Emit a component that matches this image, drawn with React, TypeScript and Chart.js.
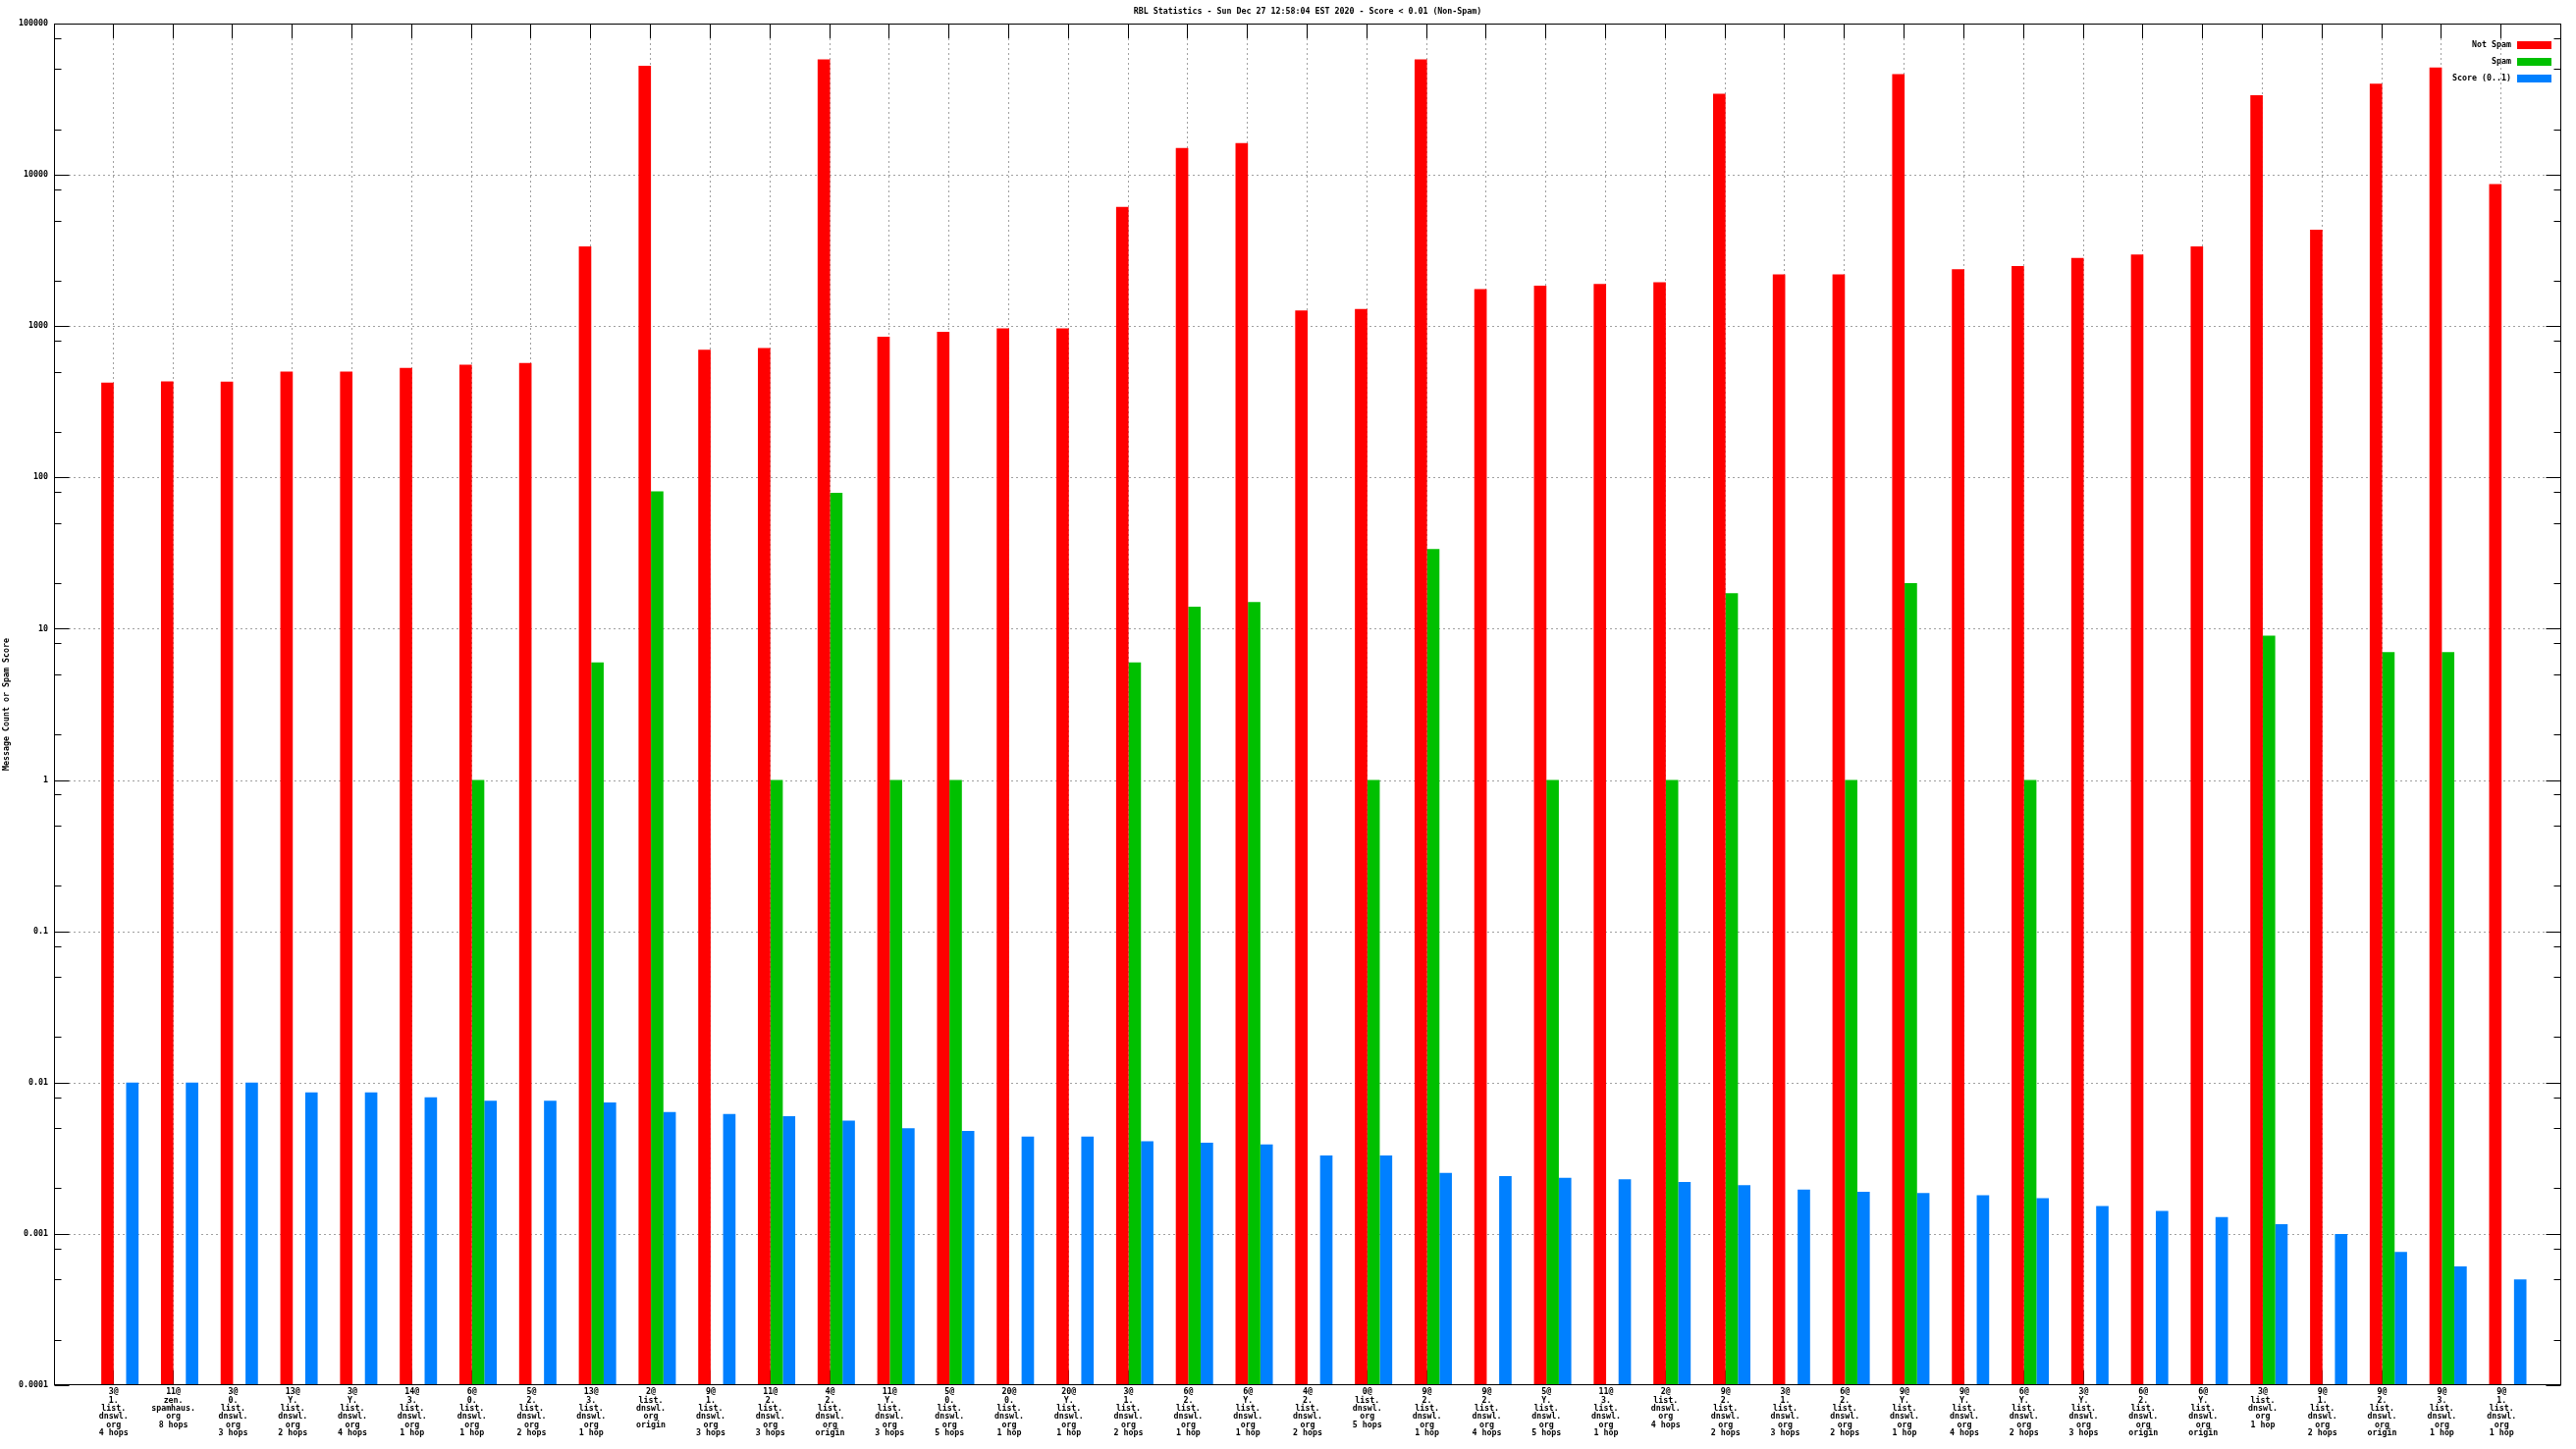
import { useEffect, useRef } from 'react';
import { Chart, registerables } from 'chart.js';

Chart.register(...registerables);

const chartTitle = 'RBL Statistics - Sun Dec 27 12:58:04 EST 2020 - Score < 0.01 (Non-Spam)';
const yAxisTitle = 'Message Count or Spam Score';

const categoryLabels: string[] = [
  '3@\n1.\nlist.\ndnswl.\norg\n4 hops',
  '11@\nzen.\nspamhaus.\norg\n8 hops',
  '3@\n0.\nlist.\ndnswl.\norg\n3 hops',
  '13@\nY.\nlist.\ndnswl.\norg\n2 hops',
  '3@\nY.\nlist.\ndnswl.\norg\n4 hops',
  '14@\n3.\nlist.\ndnswl.\norg\n1 hop',
  '6@\n0.\nlist.\ndnswl.\norg\n1 hop',
  '5@\n2.\nlist.\ndnswl.\norg\n2 hops',
  '13@\n3.\nlist.\ndnswl.\norg\n1 hop',
  '2@\nlist.\ndnswl.\norg\norigin',
  '9@\n1.\nlist.\ndnswl.\norg\n3 hops',
  '11@\n2.\nlist.\ndnswl.\norg\n3 hops',
  '4@\n2.\nlist.\ndnswl.\norg\norigin',
  '11@\nY.\nlist.\ndnswl.\norg\n3 hops',
  '5@\n0.\nlist.\ndnswl.\norg\n5 hops',
  '20@\n0.\nlist.\ndnswl.\norg\n1 hop',
  '20@\nY.\nlist.\ndnswl.\norg\n1 hop',
  '3@\n1.\nlist.\ndnswl.\norg\n2 hops',
  '6@\n2.\nlist.\ndnswl.\norg\n1 hop',
  '6@\nY.\nlist.\ndnswl.\norg\n1 hop',
  '4@\n2.\nlist.\ndnswl.\norg\n2 hops',
  '0@\nlist.\ndnswl.\norg\n5 hops',
  '9@\n2.\nlist.\ndnswl.\norg\n1 hop',
  '9@\n2.\nlist.\ndnswl.\norg\n4 hops',
  '5@\nY.\nlist.\ndnswl.\norg\n5 hops',
  '11@\n3.\nlist.\ndnswl.\norg\n1 hop',
  '2@\nlist.\ndnswl.\norg\n4 hops',
  '9@\n2.\nlist.\ndnswl.\norg\n2 hops',
  '3@\n1.\nlist.\ndnswl.\norg\n3 hops',
  '6@\n2.\nlist.\ndnswl.\norg\n2 hops',
  '9@\nY.\nlist.\ndnswl.\norg\n1 hop',
  '9@\nY.\nlist.\ndnswl.\norg\n4 hops',
  '6@\nY.\nlist.\ndnswl.\norg\n2 hops',
  '3@\nY.\nlist.\ndnswl.\norg\n3 hops',
  '6@\n2.\nlist.\ndnswl.\norg\norigin',
  '6@\nY.\nlist.\ndnswl.\norg\norigin',
  '3@\nlist.\ndnswl.\norg\n1 hop',
  '9@\n1.\nlist.\ndnswl.\norg\n2 hops',
  '9@\n2.\nlist.\ndnswl.\norg\norigin',
  '9@\n3.\nlist.\ndnswl.\norg\n1 hop',
  '9@\n1.\nlist.\ndnswl.\norg\n1 hop',
];

const notSpam: number[] = [
  424, 432, 430, 500, 500, 530, 557, 571, 3370, 52600,
  698, 716, 58000, 852, 918, 966, 966, 6140, 15060, 16200,
  1270, 1300, 58000, 1760, 1850, 1900, 1950, 34400, 2200, 2200,
  46400, 2380, 2500, 2820, 2970, 3370, 33600, 4340, 40000, 51300,
  8700,
];

const spam: (number | null)[] = [
  null, null, null, null, null, null, 1, null, 6, 81,
  null, 1, 79, 1, 1, null, null, 6, 14, 15,
  null, 1, 33.6, null, 1, null, 1, 17.2, null, 1,
  20, null, 1, null, null, null, 9, null, 7, 7,
  null,
];

const score: number[] = [
  0.01, 0.01, 0.01, 0.0086, 0.0086, 0.008, 0.0076, 0.0076, 0.0074, 0.0064,
  0.0062, 0.006, 0.0056, 0.005, 0.0048, 0.0044, 0.0044, 0.0041, 0.004, 0.0039,
  0.0033, 0.0033, 0.00253, 0.00241, 0.00235, 0.0023, 0.0022, 0.0021, 0.00196, 0.0019,
  0.00186, 0.0018, 0.00172, 0.00153, 0.00142, 0.00129, 0.00116, 0.001, 0.00076, 0.00061,
  0.0005,
];

const yTickLabels: string[] = ['0.0001', '0.001', '0.01', '0.1', '1', '10', '100', '1000', '10000', '100000'];
const yMinorMultipliers: number[] = [2, 5, 8];

const seriesNames: string[] = ['Not Spam', 'Spam', 'Score (0..1)'];
const seriesColors: string[] = ['#ff0000', '#00c000', '#0080ff'];

const FONT = '"DejaVu Sans Mono", monospace';
const FONT_SIZE = 8.3;
const FONT_WEIGHT = 'bold';
const CAT_PCT = 0.625;
const MAJOR = 15;
const MINOR = 7;

const framePlugin = {
  id: 'gnuplotFrame',
  beforeDraw(chart: any) {
    const { ctx, width, height } = chart;
    ctx.save();
    ctx.fillStyle = '#ffffff';
    ctx.fillRect(0, 0, width, height);
    ctx.restore();
  },
  beforeDatasetsDraw(chart: any) {
    const { ctx, chartArea: a, scales } = chart;
    const xs = scales.x;
    const ys = scales.y;
    ctx.save();
    ctx.lineWidth = 1;
    ctx.strokeStyle = '#a0a0a0';
    ctx.setLineDash([2, 3]);
    yTickLabels.forEach((s, i) => {
      if (i === 0 || i === yTickLabels.length - 1) return;
      const py = Math.round(ys.getPixelForValue(Number(s))) + 0.5;
      ctx.beginPath();
      ctx.moveTo(a.left + MAJOR, py);
      ctx.lineTo(a.right - MAJOR, py);
      ctx.stroke();
    });
    categoryLabels.forEach((_, i) => {
      const px = Math.round(xs.getPixelForValue(i + 1)) - 0.5;
      ctx.beginPath();
      ctx.moveTo(px, a.top + MAJOR);
      ctx.lineTo(px, a.bottom);
      ctx.stroke();
    });
    ctx.setLineDash([]);
    ctx.strokeStyle = '#000000';
    categoryLabels.forEach((_, i) => {
      const px = Math.round(xs.getPixelForValue(i + 1)) - 0.5;
      ctx.beginPath();
      ctx.moveTo(px, a.top);
      ctx.lineTo(px, a.top + MAJOR);
      ctx.moveTo(px, a.bottom);
      ctx.lineTo(px, a.bottom - MAJOR);
      ctx.stroke();
    });
    ctx.restore();
  },
  afterDatasetsDraw(chart: any) {
    const { ctx, chartArea: a, scales } = chart;
    const ys = scales.y;
    ctx.save();
    ctx.lineWidth = 1;
    ctx.strokeStyle = '#000000';
    const L = Math.round(a.left) + 0.5;
    const R = Math.round(a.right) - 0.5;
    const T = Math.round(a.top) + 0.5;
    const B = Math.round(a.bottom) - 0.5;
    yTickLabels.forEach((s, i) => {
      const v = Number(s);
      const py = Math.round(ys.getPixelForValue(v)) + 0.5;
      ctx.beginPath();
      ctx.moveTo(L, py);
      ctx.lineTo(L + MAJOR, py);
      ctx.moveTo(R, py);
      ctx.lineTo(R - MAJOR, py);
      ctx.stroke();
      if (i < yTickLabels.length - 1) {
        yMinorMultipliers.forEach((m) => {
          const pm = Math.round(ys.getPixelForValue(v * m)) + 0.5;
          ctx.beginPath();
          ctx.moveTo(L, pm);
          ctx.lineTo(L + MINOR, pm);
          ctx.moveTo(R, pm);
          ctx.lineTo(R - MINOR, pm);
          ctx.stroke();
        });
      }
    });
    ctx.strokeRect(L, T, R - L, B - T);

    ctx.fillStyle = '#000000';
    ctx.font = `${FONT_WEIGHT} ${FONT_SIZE}px ${FONT}`;
    ctx.textBaseline = 'middle';
    ctx.textAlign = 'center';
    ctx.fillText(chartTitle, (a.left + a.right) / 2, 12);
    ctx.save();
    ctx.translate(6.5, (a.top + a.bottom) / 2);
    ctx.rotate(-Math.PI / 2);
    ctx.fillText(yAxisTitle, 0, 0);
    ctx.restore();
    seriesNames.forEach((name, i) => {
      const cy = a.top + 22 + i * 17;
      ctx.textAlign = 'right';
      ctx.fillStyle = '#000000';
      ctx.fillText(name, a.right - 51, cy);
      ctx.fillStyle = seriesColors[i];
      ctx.fillRect(a.right - 45, cy - 4, 35, 8);
    });
    ctx.restore();
  },
};

export default function App() {
  const canvasRef = useRef<HTMLCanvasElement | null>(null);

  useEffect(() => {
    const canvas = canvasRef.current;
    if (!canvas) return;
    const groupShift = CAT_PCT / 6;
    const seriesValues = [notSpam, spam, score];
    const tickFont = { family: FONT, size: FONT_SIZE, weight: FONT_WEIGHT, lineHeight: 1 };
    const chart = new Chart(canvas, {
      type: 'bar',
      data: {
        datasets: seriesNames.map((name, s) => ({
          label: name,
          data: (seriesValues[s] as (number | null)[]).map((v, i) => ({ x: i + 1 + groupShift, y: v })),
          backgroundColor: seriesColors[s],
          borderWidth: 0,
          categoryPercentage: CAT_PCT,
          barPercentage: 1,
        })),
      } as any,
      options: {
        animation: false,
        responsive: false,
        devicePixelRatio: 1,
        layout: { padding: { top: 24, right: 15, bottom: 0, left: 0 } },
        plugins: {
          legend: { display: false },
          title: { display: false },
          tooltip: { enabled: false },
        },
        scales: {
          x: {
            type: 'linear',
            min: 0,
            max: categoryLabels.length + 1,
            offset: false,
            grid: { display: false, drawTicks: false },
            border: { display: false },
            afterBuildTicks: (scale: any) => {
              const t: { value: number }[] = [];
              for (let i = 0; i <= categoryLabels.length + 1; i++) t.push({ value: i });
              scale.ticks = t;
            },
            afterFit: (scale: any) => {
              scale.height = 65;
            },
            ticks: {
              autoSkip: false,
              maxRotation: 0,
              minRotation: 0,
              padding: 3,
              color: '#000000',
              font: tickFont,
              callback: (_v: any, index: number) => {
                if (index < 1 || index > categoryLabels.length) return '';
                return categoryLabels[index - 1].split('\n');
              },
            },
          },
          y: {
            type: 'logarithmic',
            min: Number(yTickLabels[0]),
            max: Number(yTickLabels[yTickLabels.length - 1]),
            grid: { display: false, drawTicks: false },
            border: { display: false },
            afterBuildTicks: (scale: any) => {
              scale.ticks = yTickLabels.map((s) => ({ value: Number(s) }));
            },
            afterFit: (scale: any) => {
              scale.width = 55;
            },
            ticks: {
              padding: 6,
              color: '#000000',
              font: tickFont,
              callback: (_v: any, index: number) => yTickLabels[index],
            },
          },
        },
      } as any,
      plugins: [framePlugin],
    });
    return () => chart.destroy();
  }, []);

  return (
    <div style={{ position: 'fixed', left: 0, top: 0, width: 2624, height: 1476, background: '#ffffff' }}>
      <canvas ref={canvasRef} width={2624} height={1476} style={{ display: 'block' }} />
    </div>
  );
}
